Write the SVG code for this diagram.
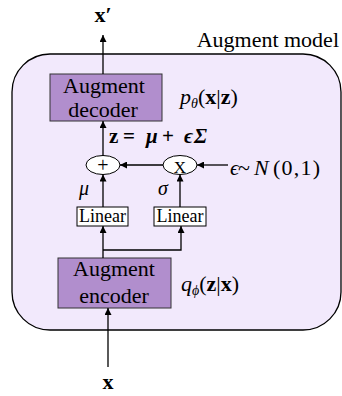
<svg xmlns="http://www.w3.org/2000/svg" width="342" height="396" viewBox="0 0 342 396">
<style>
.t{font-family:"Liberation Serif","Times New Roman",serif;fill:#000}
.box{fill:#b18ecd;stroke:#333;stroke-width:1}
.lin{fill:#fff;stroke:#000;stroke-width:1}
.c{stroke:#000;stroke-width:1.3;fill:none}
</style>
<defs>
<marker id="ah" viewBox="0 0 10 10" refX="10" refY="5" markerWidth="7" markerHeight="7" orient="auto" markerUnits="userSpaceOnUse"><path d="M0,0L10,5L0,10z" fill="#000"/></marker>
</defs>
<g id="container">
<rect x="12" y="54" width="329" height="276" rx="38" ry="38" fill="#f2e9fc" stroke="#000" stroke-width="1.3"/>
<text class="t" x="339" y="47" font-size="22" text-anchor="end">Augment model</text>
</g>
<g id="decoder">
<rect class="box" x="50" y="74" width="112" height="47"/>
<text class="t" x="104" y="93" font-size="22" text-anchor="middle">Augment</text>
<text class="t" x="103" y="117" font-size="22" text-anchor="middle">decoder</text>
<text class="t" x="180" y="104" font-size="22" font-style="italic">p<tspan font-size="14" dy="4">θ</tspan><tspan dy="-4" font-style="normal">(</tspan><tspan font-weight="bold" font-style="normal">x</tspan><tspan font-style="normal">|</tspan><tspan font-weight="bold" font-style="normal">z</tspan><tspan font-style="normal">)</tspan></text>
</g>
<g id="encoder">
<rect class="box" x="58" y="258" width="113" height="50"/>
<text class="t" x="114" y="276" font-size="22" text-anchor="middle">Augment</text>
<text class="t" x="114" y="303" font-size="22" text-anchor="middle">encoder</text>
<text class="t" x="181" y="291" font-size="22" font-style="italic">q<tspan font-size="14" dy="4">ϕ</tspan><tspan dy="-4" font-style="normal">(</tspan><tspan font-weight="bold" font-style="normal">z</tspan><tspan font-style="normal">|</tspan><tspan font-weight="bold" font-style="normal">x</tspan><tspan font-style="normal">)</tspan></text>
</g>
<g id="plus">
<ellipse cx="103" cy="165" rx="17" ry="9.5" fill="#fff" stroke="#000" stroke-width="1"/>
<text class="t" x="103" y="172" font-size="20" text-anchor="middle">+</text>
</g>
<g id="times">
<ellipse cx="180" cy="165" rx="17" ry="9.5" fill="#fff" stroke="#000" stroke-width="1"/>
<text class="t" x="180" y="173" font-size="17" text-anchor="middle">X</text>
</g>
<g id="linear1">
<rect class="lin" x="77" y="207" width="51" height="19"/>
<text class="t" x="102.5" y="222" font-size="18" text-anchor="middle">Linear</text>
</g>
<g id="linear2">
<rect class="lin" x="154" y="207" width="52" height="19"/>
<text class="t" x="180" y="222" font-size="18" text-anchor="middle">Linear</text>
</g>
<g id="labels">
<text class="t" x="103" y="22" font-size="22" font-weight="bold" text-anchor="middle">x′</text>
<text class="t" x="108" y="389" font-size="22" font-weight="bold" text-anchor="middle">x</text>
<text class="t" y="143" font-size="21" font-weight="bold"><tspan x="109">z</tspan><tspan x="123">=</tspan><tspan x="146" font-style="italic">μ</tspan><tspan x="162">+</tspan><tspan x="184" font-style="italic">ϵ</tspan><tspan x="194" font-style="italic">Σ</tspan></text>
<text class="t" y="175" font-size="22" font-style="italic"><tspan x="230">ϵ</tspan><tspan x="238" font-style="normal">~</tspan><tspan x="254">N</tspan><tspan x="273" font-style="normal" letter-spacing="1.2">(0,1)</tspan></text>
<text class="t" x="84" y="195" font-size="20" font-style="italic" text-anchor="middle">μ</text>
<text class="t" x="163" y="195" font-size="20" font-style="italic" text-anchor="middle">σ</text>
</g>
<g id="connectors">
<line class="c" x1="103" y1="74" x2="103" y2="35" marker-end="url(#ah)"/>
<line class="c" x1="103" y1="155.5" x2="103" y2="121" marker-end="url(#ah)"/>
<line class="c" x1="163" y1="165" x2="120" y2="165" marker-end="url(#ah)"/>
<line class="c" x1="228" y1="165" x2="197" y2="165" marker-end="url(#ah)"/>
<line class="c" x1="103" y1="207" x2="103" y2="174.5" marker-end="url(#ah)"/>
<line class="c" x1="180" y1="207" x2="180" y2="174.5" marker-end="url(#ah)"/>
<line class="c" x1="103" y1="258" x2="103" y2="226" marker-end="url(#ah)"/>
<polyline class="c" points="103,250 181,250 181,226" marker-end="url(#ah)"/>
<line class="c" x1="108" y1="367" x2="108" y2="308" marker-end="url(#ah)"/>
</g>
</svg>
